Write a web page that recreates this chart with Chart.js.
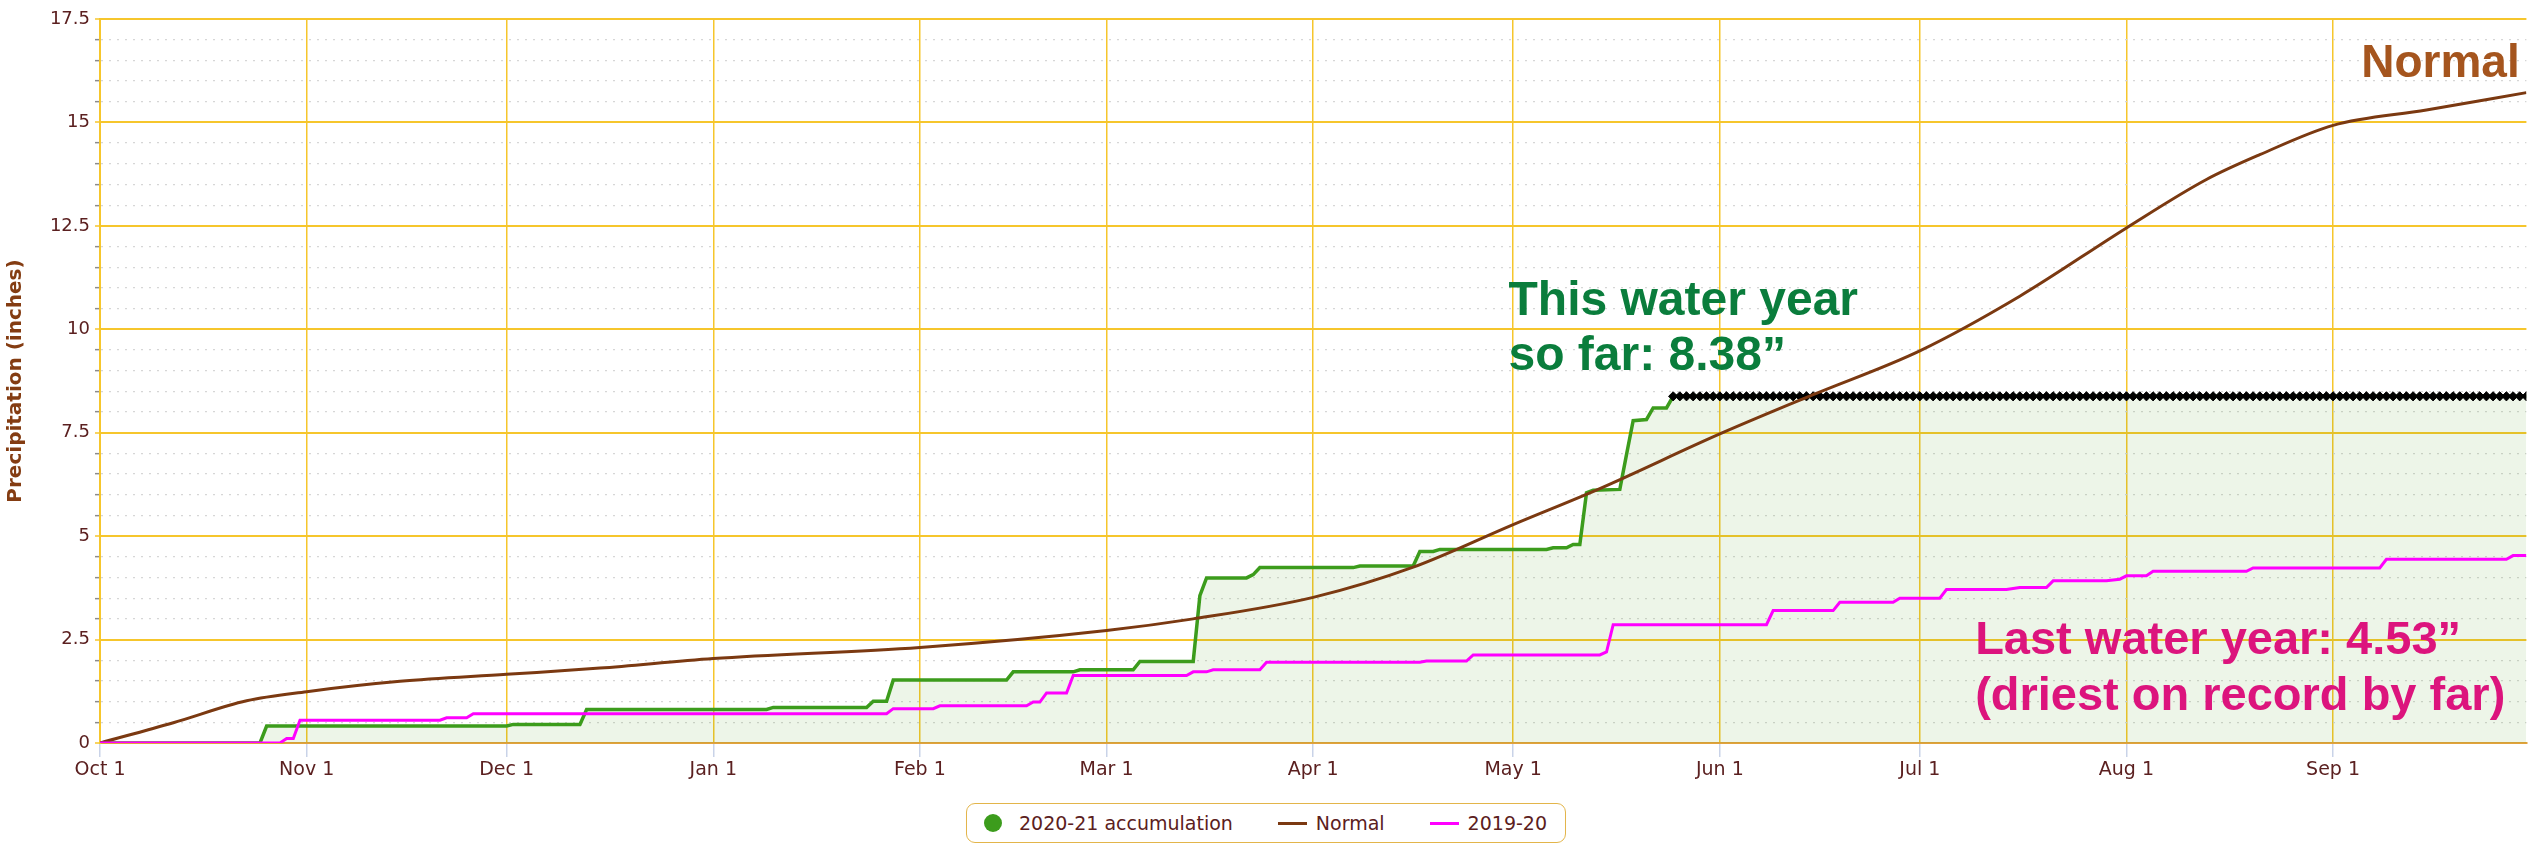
<!DOCTYPE html>
<html>
<head>
<meta charset="utf-8">
<title>Water year precipitation</title>
<script src="https://cdn.jsdelivr.net/npm/chart.js@4.4.1/dist/chart.umd.min.js"></script>
<style>
  html, body { margin: 0; padding: 0; background: #fff; overflow: hidden; }
  #wrap { position: relative; width: 2532px; height: 845px; }
  #legend {
    position: absolute; top: 803px; left: 50%; transform: translateX(-50%);
    height: 40px; box-sizing: border-box; padding: 0 18px 0 17px;
    border: 1.5px solid #e3b54a; border-radius: 9px; background: #fff;
    display: flex; align-items: center; white-space: nowrap;
    font: 19px "DejaVu Sans", sans-serif; color: #5b2020;
  }
  #legend .item { display: flex; align-items: center; }
  #legend .item + .item { margin-left: 45px; }
  #legend .circle { width: 18px; height: 18px; border-radius: 50%; margin-right: 17px; }
  #legend .line { width: 29px; height: 3px; margin-right: 9px; }
</style>
</head>
<body>
<div id="wrap">
  <canvas id="chart" width="2532" height="845"></canvas>
  <div id="legend"></div>
</div>
<script>
// x axis = days since Oct 1
const monthStartDays = [0, 31, 61, 92, 123, 151, 182, 212, 243, 273, 304, 335];
const monthLabels = ['Oct 1', 'Nov 1', 'Dec 1', 'Jan 1', 'Feb 1', 'Mar 1', 'Apr 1', 'May 1', 'Jun 1', 'Jul 1', 'Aug 1', 'Sep 1'];
const yMajorTicks = [0, 2.5, 5, 7.5, 10, 12.5, 15, 17.5];
const lastDay = 364;

// 2020-21 accumulation
const accumDays = [0, 24, 25, 61, 62, 72, 73, 100, 101, 115, 116, 118, 119, 136, 137, 146, 147, 155, 156, 164,
  165, 166, 172, 173, 174, 188, 189, 197, 198, 200, 201, 217, 218, 220, 221, 222, 223, 224, 228, 229,
  230, 232, 233, 235, 236, 364];
const accumValues = [0, 0, 0.41, 0.41, 0.45, 0.45, 0.81, 0.81, 0.86, 0.86, 1.01, 1.01, 1.52, 1.52, 1.72, 1.72, 1.77, 1.77, 1.97, 1.97,
  3.56, 3.99, 3.99, 4.07, 4.24, 4.24, 4.28, 4.28, 4.63, 4.63, 4.68, 4.68, 4.72, 4.72, 4.80, 4.80, 6.05, 6.11, 6.13, 6.97,
  7.79, 7.82, 8.10, 8.10, 8.38, 8.38];

// rest of the year held at the season total (black diamonds)
const forecastStartDay = 236;
const seasonTotal = 8.38;

// Normal
const normalDays = [0, 11, 22, 31, 45, 61, 75, 92, 123, 151, 164, 182, 197, 212, 225, 243, 257, 273,
  288, 304, 316, 324, 335, 349, 364];
const normalValues = [0, 0.49, 1.02, 1.24, 1.49, 1.66, 1.81, 2.04, 2.31, 2.72, 3.00, 3.52, 4.25, 5.28, 6.15, 7.47, 8.42, 9.48,
  10.80, 12.45, 13.62, 14.22, 14.93, 15.30, 15.72];

// 2019-20
const lastYearDays = [0, 27, 28, 29, 30, 51, 52, 55, 56, 118, 119, 125, 126, 139, 140, 141, 142, 145, 146, 163,
  164, 166, 167, 174, 175, 198, 199, 205, 206, 225, 226, 227, 250, 251, 260, 261, 269, 270, 276, 277,
  286, 288, 292, 293, 301, 303, 304, 307, 308, 322, 323, 342, 343, 361, 362, 364];
const lastYearValues = [0, 0, 0.11, 0.11, 0.55, 0.55, 0.61, 0.61, 0.71, 0.71, 0.83, 0.83, 0.90, 0.90, 0.99, 0.99, 1.21, 1.21, 1.63, 1.63,
  1.72, 1.72, 1.77, 1.77, 1.95, 1.95, 1.98, 1.98, 2.13, 2.13, 2.20, 2.86, 2.86, 3.20, 3.20, 3.40, 3.40, 3.50, 3.50, 3.71,
  3.71, 3.76, 3.76, 3.92, 3.92, 3.96, 4.04, 4.04, 4.15, 4.15, 4.23, 4.23, 4.44, 4.44, 4.53, 4.53];

// text notes, placed in data coordinates
const notes = [
  { lines: ['Normal'], day: 363, values: [16.1], color: '#a5551e', align: 'right', size: 46 },
  { lines: ['This water year', 'so far: 8.38\u201d'], day: 211.3, values: [10.35, 9.02], color: '#0a7d3c', align: 'left', size: 48 },
  { lines: ['Last water year: 4.53\u201d', '(driest on record by far)'], day: 281.3, values: [2.15, 0.8], color: '#dc147d', align: 'left', size: 47 },
];

const toPoints = (days, values) => days.map((d, i) => ({ x: d, y: values[i] }));
const forecastPoints = [];
for (let d = forecastStartDay; d <= lastDay; d++) forecastPoints.push({ x: d, y: seasonTotal });

const isMajor = (v) => yMajorTicks.some(t => Math.abs(t - v) < 1e-6);
const GOLD = '#f6c62c';
const LABEL_COLOR = '#5b2020';

// tick labels drawn straight from the scales (no clipping)
const tickLabelPlugin = {
  id: 'tickLabels',
  afterDraw(chart) {
    const { ctx, scales: { x, y } } = chart;
    ctx.save();
    ctx.fillStyle = LABEL_COLOR;
    ctx.textBaseline = 'middle';

    ctx.font = '19px "DejaVu Sans", sans-serif';
    ctx.textAlign = 'center';
    monthStartDays.forEach((d, i) => {
      ctx.fillText(monthLabels[i], x.getPixelForValue(d), x.top + 27);
    });

    ctx.font = '18px "DejaVu Sans", sans-serif';
    ctx.textAlign = 'right';
    yMajorTicks.forEach(v => {
      ctx.fillText(String(v), y.right - 10, y.getPixelForValue(v));
    });
    ctx.restore();
  }
};

const notesPlugin = {
  id: 'notes',
  afterDatasetsDraw(chart) {
    const { ctx, scales: { x, y } } = chart;
    ctx.save();
    notes.forEach(n => {
      ctx.font = `bold ${n.size}px "Liberation Sans", Arial, sans-serif`;
      ctx.fillStyle = n.color;
      ctx.textAlign = n.align;
      ctx.textBaseline = 'alphabetic';
      n.lines.forEach((line, i) => {
        ctx.fillText(line, x.getPixelForValue(n.day), y.getPixelForValue(n.values[i]));
      });
    });
    ctx.restore();
  }
};

Chart.defaults.font.family = '"DejaVu Sans", sans-serif';

const chart = new Chart(document.getElementById('chart'), {
  type: 'line',
  data: {
    datasets: [
      {
        label: '2020-21 accumulation',
        legendSymbol: 'circle',
        data: toPoints(accumDays, accumValues),
        borderColor: '#3c9c1c',
        backgroundColor: 'rgba(76, 160, 30, 0.1)',
        borderWidth: 3.5,
        fill: 'origin',
        pointRadius: 0,
        tension: 0,
        order: 4,
      },
      {
        label: 'Normal',
        legendSymbol: 'line',
        data: toPoints(normalDays, normalValues),
        borderColor: '#7b3911',
        backgroundColor: '#7b3911',
        borderWidth: 3,
        pointRadius: 0,
        cubicInterpolationMode: 'monotone',
        order: 2,
      },
      {
        label: '2019-20',
        legendSymbol: 'line',
        data: toPoints(lastYearDays, lastYearValues),
        borderColor: '#ff00ff',
        backgroundColor: '#ff00ff',
        borderWidth: 3,
        pointRadius: 0,
        tension: 0,
        order: 1,
      },
      {
        label: 'projection',
        legendSymbol: null,
        data: forecastPoints,
        showLine: false,
        pointStyle: 'rectRot',
        pointRadius: 4.6,
        pointBackgroundColor: '#000',
        pointBorderColor: '#000',
        pointBorderWidth: 1,
        order: 3,
      },
    ],
  },
  options: {
    responsive: false,
    devicePixelRatio: 1,
    animation: false,
    layout: { padding: { top: 19, right: 3, left: 0, bottom: 0 } },
    plugins: {
      legend: { display: false },
      tooltip: { enabled: false },
    },
    scales: {
      x: {
        type: 'linear',
        min: 0,
        max: lastDay,
        afterBuildTicks: (scale) => {
          scale.ticks = monthStartDays.map(v => ({ value: v }));
        },
        afterFit: (scale) => { scale.height = 102; },
        ticks: { display: false },
        grid: {
          color: GOLD,
          lineWidth: 1.5,
          tickColor: '#c9d3e8',
          tickLength: 14,
          tickWidth: 1.5,
        },
        border: { color: '#e2a23c', width: 2 },
      },
      y: {
        min: 0,
        max: 17.5,
        afterFit: (scale) => { scale.width = 100; },
        ticks: {
          display: false,
          stepSize: 0.5,
          maxTicksLimit: 100,
          autoSkip: false,
        },
        grid: {
          color: (ctx) => (ctx.tick && isMajor(ctx.tick.value) ? GOLD : '#d6d6d6'),
          lineWidth: (ctx) => (ctx.tick && isMajor(ctx.tick.value) ? 2 : 1.3),
          tickColor: (ctx) => (ctx.tick && isMajor(ctx.tick.value) ? GOLD : '#8c8c8c'),
          tickLength: 5,
          tickWidth: 1.5,
        },
        border: {
          color: GOLD,
          width: 2,
          dash: (ctx) => (ctx.tick && !isMajor(ctx.tick.value) ? [2, 6] : []),
        },
        title: {
          display: true,
          text: 'Precipitation (inches)',
          color: '#843c12',
          font: { size: 20, weight: 'bold' },
          padding: { top: 4, bottom: 0 },
        },
      },
    },
  },
  plugins: [notesPlugin, tickLabelPlugin],
});

// legend built from the chart's datasets
const legendBox = document.getElementById('legend');
chart.data.datasets.forEach(ds => {
  if (!ds.legendSymbol) return;
  const item = document.createElement('div');
  item.className = 'item';
  const sym = document.createElement('span');
  sym.className = ds.legendSymbol;
  sym.style.background = ds.borderColor;
  const text = document.createElement('span');
  text.textContent = ds.label;
  item.appendChild(sym);
  item.appendChild(text);
  legendBox.appendChild(item);
});
</script>
</body>
</html>
